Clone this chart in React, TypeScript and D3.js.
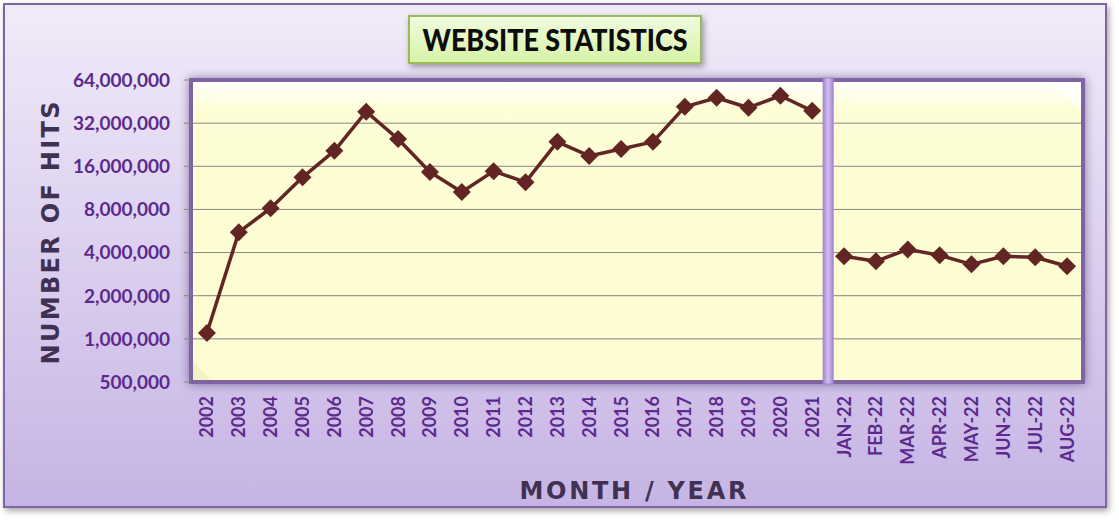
import * as d3 from "d3"

const years = ["2002","2003","2004","2005","2006","2007","2008","2009","2010","2011","2012","2013","2014","2015","2016","2017","2018","2019","2020","2021"]
const yearHits = [1100000,5550000,8150000,13400000,20500000,38500000,24800000,14600000,10600000,14800000,12400000,23700000,18900000,21100000,23700000,41600000,48100000,41000000,49700000,39000000]
const months = ["JAN-22","FEB-22","MAR-22","APR-22","MAY-22","JUN-22","JUL-22","AUG-22"]
const monthHits = [3770000,3480000,4210000,3830000,3310000,3770000,3710000,3210000]
const yTicks = [500000,1000000,2000000,4000000,8000000,16000000,32000000,64000000]

const W = 1119
const H = 521
const plot = { left: 191, right: 1083, top: 80, bottom: 382 }

export default function App() {
  const categories = [...years, ...months]
  const x = d3.scaleBand().domain(categories).range([plot.left, plot.right])
  const y = d3
    .scaleLog()
    .base(2)
    .domain([500000, 64000000])
    .range([plot.bottom, plot.top])
  const cx = (c: string) => (x(c) || 0) + x.bandwidth() / 2

  const line = d3
    .line<[string, number]>()
    .x((d) => cx(d[0]))
    .y((d) => y(d[1]))

  const yearPts: [string, number][] = years.map((c, i) => [c, yearHits[i]])
  const monthPts: [string, number][] = months.map((c, i) => [c, monthHits[i]])
  const allPts = [...yearPts, ...monthPts]

  const sepX = (cx("2021") + cx("JAN-22")) / 2
  const fmt = d3.format(",")
  const purple = "#5c2a8e"
  const maroon = "#632523"

  return (
    <svg
      width={W}
      height={H}
      style={{ position: "absolute", left: 0, top: 0, background: "#fff" }}
      fontFamily="Lato, 'Open Sans', sans-serif"
    >
      <defs>
        <linearGradient id="bg" x1="0" y1="0" x2="0" y2="1">
          <stop offset="0" stopColor="#f1ebf9" />
          <stop offset="1" stopColor="#c6b4e4" />
        </linearGradient>
        <linearGradient id="plotbg" x1="0" y1="0" x2="0" y2="1">
          <stop offset="0" stopColor="#ffffff" />
          <stop offset="0.1" stopColor="#fefed6" />
          <stop offset="1" stopColor="#fdfcd2" />
        </linearGradient>
        <linearGradient id="titlebg" x1="0" y1="0" x2="0" y2="1">
          <stop offset="0" stopColor="#f2fbe0" />
          <stop offset="1" stopColor="#d6f3a6" />
        </linearGradient>
        <linearGradient id="sep" x1="0" y1="0" x2="1" y2="0">
          <stop offset="0" stopColor="#a685d2" />
          <stop offset="0.5" stopColor="#d3c0ef" />
          <stop offset="1" stopColor="#a685d2" />
        </linearGradient>
        <filter id="shadow" x="-10%" y="-10%" width="120%" height="130%">
          <feDropShadow dx="2" dy="3" stdDeviation="3" floodColor="#000" floodOpacity="0.35" />
        </filter>
        <filter id="glow" x="-5%" y="-10%" width="110%" height="120%">
          <feDropShadow dx="0" dy="0" stdDeviation="5" floodColor="#3a2a55" floodOpacity="0.55" />
        </filter>
      </defs>

      {/* chart box */}
      <rect x={4} y={4} width={1102} height={503} fill="url(#bg)" stroke="#8064a2" strokeWidth={2} filter="url(#shadow)" />

      {/* title */}
      <rect x={409} y={16} width={292} height={47} fill="url(#titlebg)" stroke="#9bbb59" strokeWidth={2} filter="url(#shadow)" />
      <text x={555} y={51} textAnchor="middle" fontSize={30} fontWeight={900} fill="#0d0d0d" textLength={265} lengthAdjust="spacingAndGlyphs">
        WEBSITE STATISTICS
      </text>

      {/* plot area */}
      <rect
        x={plot.left}
        y={plot.top}
        width={plot.right - plot.left}
        height={plot.bottom - plot.top}
        fill="url(#plotbg)"
        stroke="#8064a2"
        strokeWidth={4}
        filter="url(#glow)"
      />
      <polygon
        points={`${plot.right - 2},${plot.top + 2} ${plot.right - 2},${plot.top + 30} ${plot.right - 30},${plot.top + 2}`}
        fill="#ffffff"
        opacity={0.8}
      />
      <polygon
        points={`${plot.left + 2},${plot.bottom - 2} ${plot.left + 2},${plot.bottom - 20} ${plot.left + 20},${plot.bottom - 2}`}
        fill="#f3f0c0"
        opacity={0.8}
      />

      {/* grid + y ticks */}
      {yTicks.map((t) => (
        <g key={t}>
          {t !== 500000 && t !== 64000000 && (
            <line x1={plot.left + 2} x2={plot.right - 2} y1={y(t)} y2={y(t)} stroke="#868686" strokeWidth={1} />
          )}
          <line x1={184} x2={plot.left} y1={y(t)} y2={y(t)} stroke="#868686" strokeWidth={1} />
          <text x={170} y={y(t)} dy="0.36em" textAnchor="end" fontSize={19} fontWeight={700} fill={purple}>
            {fmt(t)}
          </text>
        </g>
      ))}

      {/* separator */}
      <rect x={sepX - 5} y={plot.top - 2} width={10} height={plot.bottom - plot.top + 4} fill="url(#sep)" stroke="#a583d3" strokeWidth={1} />

      {/* x labels */}
      {categories.map((c) => (
        <text
          key={c}
          transform={`translate(${cx(c)},396) rotate(-90)`}
          dy="0.36em"
          textAnchor="end"
          fontSize={18}
          fontWeight={700}
          fill={purple}
        >
          {c}
        </text>
      ))}

      {/* series */}
      <path d={line(yearPts) || ""} fill="none" stroke={maroon} strokeWidth={3.5} strokeLinejoin="round" />
      <path d={line(monthPts) || ""} fill="none" stroke={maroon} strokeWidth={3.5} strokeLinejoin="round" />
      {allPts.map((d) => (
        <path
          key={d[0]}
          transform={`translate(${cx(d[0])},${y(d[1])})`}
          d="M0,-9L9,0L0,9L-9,0Z"
          fill={maroon}
        />
      ))}

      {/* axis titles */}
      <text
        transform="translate(59,233) rotate(-90)"
        textAnchor="middle"
        fontFamily="'DejaVu Sans', sans-serif"
        fontSize={24}
        fontWeight={900}
        fill="#403152"
        textLength={263}
        lengthAdjust="spacing"
      >
        NUMBER OF HITS
      </text>
      <text
        x={633}
        y={499}
        textAnchor="middle"
        fontFamily="'DejaVu Sans', sans-serif"
        fontSize={24}
        fontWeight={900}
        fill="#403152"
        textLength={227}
        lengthAdjust="spacing"
      >
        MONTH / YEAR
      </text>
    </svg>
  )
}
